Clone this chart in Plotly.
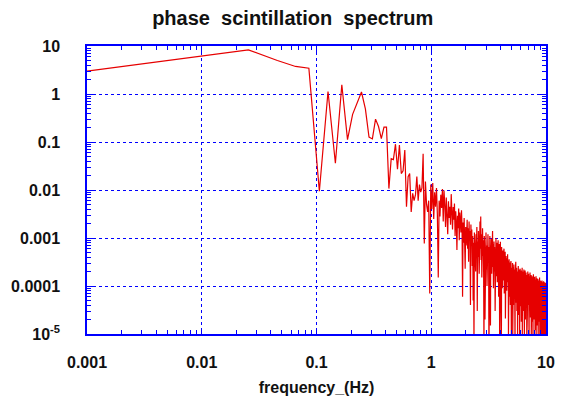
import numpy as np
import plotly.graph_objects as go

# Low-frequency anchor point drawn at the left edge of the axis
f_start = 0.001
psd_start = 3.0

# FFT bin layout of the spectrum (first bin and bin spacing, Hz)
bin0_hz = 0.0255
bin_step_hz = 0.0201

# Spectral power per bin, split by frequency band
psd_to_1hz = [
    8.3, 5.0, 3.75, 3.45, 0.0094, 1.13, 0.036, 1.56, 0.112, 0.377,
    0.65, 1.1, 0.49, 0.127, 0.116, 0.3, 0.21, 0.117, 0.205, 0.205,
    0.0107, 0.045, 0.043, 0.09, 0.027, 0.086, 0.022, 0.025, 0.068, 0.0045,
    0.019, 0.022, 0.0035, 0.0085, 0.006, 0.008, 0.019, 0.006, 0.013, 0.009,
    0.011, 0.057, 0.00077, 0.015, 0.005, 0.0035, 0.006, 0.00007, 0.013,
]

psd_1_to_2hz = [
    0.004, 0.014, 0.0025, 0.009, 0.0045, 0.011, 0.003, 0.00015, 0.006, 0.0028,
    0.008, 0.0042, 0.0105, 0.0022, 0.0098, 0.005, 0.0017, 0.007, 0.0033, 0.0012,
    0.0058, 0.0026, 0.0045, 0.0019, 0.0082, 0.0031, 0.0015, 0.0044, 0.0024, 0.0052,
    0.0011, 0.0036, 0.0021, 0.00056, 0.0029, 0.0016, 0.0041, 0.0009, 0.0034, 0.0023,
    0.0013, 0.0038, 0.0018, 0.00006, 0.0021, 0.0008, 0.0026, 0.0012, 0.00023, 0.0017,
    0.0007,
]

psd_2_to_5hz = [
    1.1e-3, 2.4e-3, 6e-4, 1.6e-3, 3.2e-4, 2.2e-3, 9e-4, 1.4e-3, 4e-5, 1.9e-3,
    7e-4, 1.5e-3, 2.6e-4, 1.1e-3, 5e-5, 8e-4, 6e-6, 1.3e-3, 4.5e-4, 9.5e-4,
    2e-4, 1.2e-3, 6.5e-4, 1.7e-3, 3e-5, 8.5e-4, 4e-4, 1.4e-3, 5.5e-4, 1.8e-4,
    1e-3, 2.2e-3, 6e-4, 2.8e-3, 3.5e-4, 1.2e-3, 1.5e-4, 7.5e-4, 1.6e-3, 4.2e-4,
    9e-4, 2.5e-4, 5e-6, 1.1e-3, 6e-4, 2e-5, 8e-4, 3.6e-4, 1.3e-3, 2.2e-4,
    7e-4, 1e-4, 9e-4, 4.8e-4, 1.2e-3, 3e-4, 6.5e-4, 4e-6, 8e-4, 2.8e-4,
    1.1e-3, 5e-4, 1.5e-5, 7e-4, 3.2e-4, 9.5e-4, 1.8e-4, 6e-4, 4e-4, 1.4e-3,
    2.5e-4, 7.5e-4, 9e-5, 5.5e-4, 8.5e-4, 2e-4, 6.5e-4, 3.5e-4, 3e-5, 7e-4,
    4.5e-4, 1e-3, 1.6e-4, 5e-4, 3e-4, 8e-4, 1.2e-4, 6e-4, 2.6e-4, 9e-4,
    3.8e-4, 6e-5, 5.5e-4, 2.2e-4, 7.5e-4, 5e-6, 4.6e-4, 2.8e-4, 8.3e-4, 1.4e-4,
    5e-4, 3e-4, 6e-6, 6.5e-4, 2e-4, 4.2e-4, 9e-5, 5.5e-4, 2.4e-4, 3.6e-4,
    1.3e-4, 4.8e-4, 2.7e-4, 6e-4, 7e-5, 3.3e-4, 4.4e-4, 1.8e-4, 5.2e-4, 2.1e-5,
    3e-4, 1.5e-4, 4.2e-4, 2.3e-4, 3.2e-4, 8e-5, 3.8e-4, 1.9e-4, 2.8e-4, 4.6e-4,
    1.2e-4, 3.4e-4, 2e-4, 9e-6, 2.9e-4, 1.6e-4, 3.6e-4, 6e-5, 2.5e-4, 1.4e-4,
    3.1e-4, 2.2e-4, 4e-5, 2.7e-4, 1.1e-4, 3.3e-4, 1.8e-4, 7e-6, 2.4e-4, 1.3e-4,
]

psd_5_to_10hz = [
    2.1e-4, 6e-5, 1.4e-4, 3e-4, 9e-6, 1.7e-4, 8e-5, 2.5e-4, 4e-5, 1.2e-4,
    2.8e-4, 7e-5, 1.5e-4, 2e-5, 2.2e-4, 1e-4, 5e-6, 1.8e-4, 6.5e-5, 1.3e-4,
    3.2e-4, 9e-5, 4.5e-5, 1.9e-4, 1.1e-4, 2.4e-4, 3e-5, 1.6e-4, 7.5e-5, 1.2e-4,
    8e-6, 2e-4, 1.4e-4, 5.5e-5, 2.6e-4, 9.5e-5, 1.7e-4, 2.5e-5, 1.3e-4, 6e-5,
    2.2e-4, 1.05e-4, 4e-6, 1.5e-4, 8.5e-5, 2.3e-4, 3.8e-5, 1.2e-4, 1.9e-4, 7e-5,
    1.4e-4, 2.1e-4, 1.8e-5, 1.1e-4, 6e-5, 1.7e-4, 9e-5, 2.4e-4, 6e-6, 1.3e-4,
    7.5e-5, 1.6e-4, 4e-5, 2e-4, 1e-4, 3e-5, 1.5e-4, 8e-5, 2.2e-4, 5e-5,
    1.2e-4, 9e-6, 1.8e-4, 7e-5, 1.35e-4, 4.5e-5, 2.1e-4, 9.5e-5, 2e-5, 1.6e-4,
    6.5e-5, 1.25e-4, 1.9e-4, 3.5e-5, 1.05e-4, 5.5e-5, 1.7e-4, 7e-6, 1.15e-4, 8e-5,
    1.5e-4, 2.5e-5, 1.3e-4, 6e-5, 2e-4, 9e-5, 4e-5, 1.4e-4, 1.1e-4, 1.5e-5,
    1.8e-4, 7e-5, 1.2e-4, 5e-6, 9.5e-5, 1.6e-4, 5e-5, 1.3e-4, 3e-5, 1.05e-4,
    1.9e-4, 6.5e-5, 1.1e-4, 2.2e-5, 1.45e-4, 8e-5, 1.2e-4, 4e-5, 1.7e-4, 9e-6,
    1e-4, 6e-5, 1.35e-4, 3.5e-5, 1.6e-4, 8.5e-5, 1.8e-5, 1.2e-4, 7e-5, 1.5e-4,
    4.5e-5, 1.1e-4, 6e-6, 1.3e-4, 7.5e-5, 1.75e-4, 3e-5, 9e-5, 1.25e-4, 5e-5,
    1.4e-4, 2e-5, 1e-4, 6.5e-5, 1.55e-4, 4e-5, 8.5e-5, 1.2e-4, 1.2e-5, 1.05e-4,
    5.5e-5, 1.35e-4, 7e-5, 2.8e-5, 1.15e-4, 8e-5, 1.6e-4, 4e-6, 9.5e-5, 6e-5,
    1.3e-4, 3.5e-5, 1e-4, 7e-5, 1.45e-4, 1.5e-5, 8.5e-5, 1.2e-4, 5e-5, 1e-4,
    2.5e-5, 1.4e-4, 6.5e-5, 9e-5, 8e-6, 1.15e-4, 5.5e-5, 1.3e-4, 3e-5, 8e-5,
    1.25e-4, 4.5e-5, 9.5e-5, 1.8e-5, 1.1e-4, 6.5e-5, 1.5e-4, 3.8e-5, 8.5e-5, 5e-6,
    1.05e-4, 6e-5, 1.3e-4, 2.2e-5, 9e-5, 4.5e-5, 1.2e-4, 7.5e-5, 1.2e-5, 1e-4,
    5.5e-5, 1.25e-4, 3e-5, 8e-5, 1.1e-4, 6e-6, 9.5e-5, 4.2e-5, 1.3e-4, 6.5e-5,
    2e-5, 1e-4, 5e-5, 1.15e-4, 7e-5, 9e-6, 8.5e-5, 1.2e-4, 3.5e-5, 9e-5,
    5.5e-5, 1.05e-4, 1.5e-5, 1.25e-4, 6e-5, 8e-5, 4e-6, 1e-4, 4.5e-5, 1.1e-4,
    7e-5, 2.5e-5, 9.5e-5, 5e-5, 1.2e-4, 1e-5, 8.5e-5, 6.5e-5, 1.05e-4, 3e-5,
    9e-5, 5.5e-5, 1.15e-4, 7e-6, 8e-5, 1e-4, 4e-5,
]

# Axis tick labels
x_tick_vals = [0.001, 0.01, 0.1, 1, 10]
x_tick_text = ["0.001", "0.01", "0.1", "1", "10"]
y_tick_vals = [1e-5, 1e-4, 1e-3, 1e-2, 0.1, 1, 10]
y_tick_text = ["10<sup>-5</sup>", "0.0001", "0.001", "0.01", "0.1", "1", "10"]

psd = psd_to_1hz + psd_1_to_2hz + psd_2_to_5hz + psd_5_to_10hz
freq = bin0_hz + bin_step_hz * np.arange(len(psd))

x = [f_start] + list(freq)
y = [psd_start] + psd

BLUE = "#0000ff"
RED = "#e60000"
FONT = "Liberation Sans, Arial, Helvetica, sans-serif"

fig = go.Figure(
    go.Scatter(x=x, y=y, mode="lines", line=dict(color=RED, width=1.2),
               hoverinfo="skip", showlegend=False)
)

axis_common = dict(
    type="log",
    automargin=False,
    showline=True,
    linecolor=BLUE,
    linewidth=1.5,
    mirror="ticks",
    ticks="inside",
    ticklen=6,
    tickwidth=1,
    tickcolor=BLUE,
    tickmode="array",
    showgrid=True,
    gridcolor=BLUE,
    griddash="dot",
    gridwidth=1,
    zeroline=False,
    tickfont=dict(family=FONT, size=16, color="#111111", weight="bold"),
    minor=dict(ticks="inside", ticklen=4, tickwidth=1, tickcolor=BLUE,
               dtick="D1", showgrid=False),
)

fig.update_xaxes(
    **axis_common,
    range=[-3, 1],
    tickvals=x_tick_vals,
    ticktext=x_tick_text,
    ticklabelstandoff=13,
    title=dict(text="frequency_(Hz)", standoff=12,
               font=dict(family=FONT, size=16, color="#111111", weight="bold")),
)
fig.update_yaxes(
    **axis_common,
    range=[-5, 1],
    tickvals=y_tick_vals,
    ticktext=y_tick_text,
    ticklabelstandoff=22,
)

fig.update_layout(
    width=563,
    height=399,
    margin=dict(l=87, r=17, t=46, b=65),
    paper_bgcolor="white",
    plot_bgcolor="white",
    title=dict(
        text="phase\u00a0 scintillation\u00a0 spectrum",
        x=0.52, xanchor="center", xref="container",
        y=0.955, yanchor="middle", yref="container",
        font=dict(family=FONT, size=20, color="#111111", weight="bold"),
    ),
)

fig.write_html("out.html")
